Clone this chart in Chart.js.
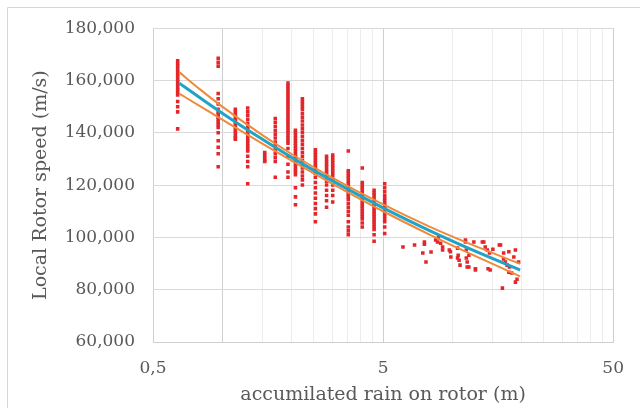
<!DOCTYPE html>
<html>
<head>
<meta charset="utf-8">
<script src="https://cdn.jsdelivr.net/npm/chart.js@4/dist/chart.umd.min.js"></script>
<style>
html,body{margin:0;padding:0;background:#fff;}
#wrap{width:640px;height:408px;position:relative;}
</style>
</head>
<body>
<div id="wrap"><canvas id="c" width="640" height="408"></canvas></div>
<script>
// ---- Axis ticks ----
const xTickValues = [0.5, 5, 50];
const xTickLabels = ['0,5', '5', '50'];
const xMinorGrid = [1, 1.5, 2, 2.5, 3, 3.5, 4, 4.5, 10, 15, 20, 25, 30, 35, 40, 45];
const yTickValues = [60000, 80000, 100000, 120000, 140000, 160000, 180000];

// ---- Measured points: vertical columns (rain in m, speed in m/s) ----
const columnRain = [0.64, 0.96, 1.14, 1.29, 1.53, 1.70, 1.93, 2.08, 2.23, 2.54, 2.84, 3.02, 3.53, 4.06, 4.57, 5.08];
const columnSpeeds = [
  [167500,166500,165500,164500,163500,162500,161500,160500,159500,158500,157500,156500,155500,154500,152000,150000,148000,141500],
  [168500,167000,165500,155000,153000,151000,149000,148000,147000,146000,145000,144000,143000,142000,140000,137000,134500,132000,127000],
  [149000,148000,147000,146000,145000,144000,143000,142000,141000,140000,139000,138000,137500],
  [149500,148000,146500,145000,143500,142000,141000,140000,139000,138000,137000,136000,135000,134000,133000,131000,129000,127000,120500],
  [132500,131500,130500,129500,129000],
  [145500,144000,142500,141000,139500,138000,136500,135000,133500,132000,130500,129000,123000],
  [159000,158000,157000,156000,155000,154000,153000,152000,151000,150000,149000,148000,147000,146000,145000,144000,143000,142000,141000,140000,139000,138000,137000,136000,134000,131000,128000,125000,123000],
  [141000,140000,139000,138000,137000,136000,135000,134000,133000,132000,131000,130000,129000,128000,127000,126000,125000,124000,119000,115500,112500],
  [153000,152000,151000,150000,149000,147500,146000,144500,143000,141500,140000,138500,137000,135500,134000,132500,131000,129500,128000,126500,125000,123500,122000,120000],
  [133500,132500,131500,130500,129500,128500,127500,126500,125500,124500,123000,121000,119000,117000,115000,113000,111000,109000,106000],
  [131000,130000,129000,128000,127000,126000,125000,124000,123000,121500,120000,118000,116000,114000,111500],
  [131500,130500,129500,128500,127500,126500,125500,124500,123500,122000,120000,118000,116000,113500],
  [133000,125500,124500,123500,122500,121500,120500,119500,118500,117500,116500,115500,114500,113000,111500,110000,108500,106000,104000,102500,101000],
  [126500,121000,120000,119000,118000,117000,116000,115000,114000,113000,112000,111000,110000,109000,108000,107000,105500,104000],
  [118000,117000,116000,115000,114000,113000,112000,111000,110000,109000,108000,107000,106000,105000,104000,103000,101000,98500],
  [120500,119000,117500,116000,115000,114000,113000,112000,111000,110000,109000,108000,107000,106000,104000,101500]
];

// ---- Measured points: scattered beyond 5 m ----
const scatterRain  = [6.1, 6.85, 7.56, 7.56, 7.44, 7.68, 8.08, 8.46, 8.62, 8.89, 8.7, 9.07, 9.07, 9.7, 9.85, 9.8, 10.53, 10.6, 10.7, 10.8, 10.53, 11.4, 11.4, 11.5, 11.5, 11.6, 11.6, 11.8, 11.8, 12.4, 12.6, 12.6, 13.5, 13.7, 13.9, 14.2, 14.5, 15.0, 14.6, 14.3, 16.0, 16.2, 16.7, 16.7, 17.0, 17.3, 17.7, 16.5, 17.6, 17.6, 18.1, 18.8, 18.8, 18.5, 19.4, 19.1];
const scatterSpeed = [96300, 97100, 98200, 97400, 94000, 90600, 94400, 99000, 98200, 97800, 100000, 95200, 96300, 95200, 92500, 94500, 95900, 93200, 91300, 89400, 92100, 98200, 99000, 95200, 92100, 90600, 88700, 93200, 88700, 98200, 87500, 88000, 98200, 98200, 96300, 95200, 94000, 95500, 87500, 88000, 97100, 97100, 94000, 91700, 90600, 89400, 88700, 80600, 86700, 94500, 86400, 95200, 82900, 92500, 90600, 84000];

// ---- Trend line and its bands ----
const trendRain  = [0.65, 0.8, 1, 1.5, 2, 3, 5, 8, 12, 19.7];
const trendSpeed = [159000,153400,147500,137400,130600,121700,111300,102500,95500,87500];
const upperSpeed = [163200,156600,150000,139000,131900,122900,112600,104000,97400,89900];
const lowerSpeed = [155000,150200,145000,135800,129400,120600,110000,101000,93700,85100];

// ---- Build datasets ----
const points = [];
columnRain.forEach((x, i) => columnSpeeds[i].forEach(y => points.push({x: x, y: y})));
scatterRain.forEach((x, i) => points.push({x: x, y: scatterSpeed[i]}));
const toXY = (xs, ys) => xs.map((x, i) => ({x: x, y: ys[i]}));

const textColor = '#595959';
const fontFam = "'DejaVu Serif', 'Liberation Serif', serif";

const framePlugin = {
  id: 'frame',
  beforeDraw(chart) {
    const c = chart.ctx;
    c.save();
    c.fillStyle = '#ffffff';
    c.fillRect(0, 0, chart.width, chart.height);
    c.strokeStyle = '#d6d6d6';
    c.lineWidth = 1;
    c.beginPath();
    c.moveTo(7.5, chart.height);
    c.lineTo(7.5, 7.5);
    c.lineTo(chart.width, 7.5);
    c.stroke();
    c.restore();
  }
};

new Chart(document.getElementById('c'), {
  type: 'scatter',
  data: {
    datasets: [
      { label: 'trend', data: toXY(trendRain, trendSpeed), showLine: true, borderColor: '#22a3c6', borderWidth: 3, pointRadius: 0, cubicInterpolationMode: 'monotone', order: 0 },
      { label: 'upper', data: toXY(trendRain, upperSpeed), showLine: true, borderColor: '#ef8a3a', borderWidth: 2, pointRadius: 0, cubicInterpolationMode: 'monotone', order: 1 },
      { label: 'lower', data: toXY(trendRain, lowerSpeed), showLine: true, borderColor: '#ef8a3a', borderWidth: 2, pointRadius: 0, cubicInterpolationMode: 'monotone', order: 2 },
      { label: 'measured', data: points, pointStyle: 'rect', pointRadius: 2.5, borderWidth: 0, backgroundColor: '#e3262b', order: 3 }
    ]
  },
  options: {
    responsive: false,
    animation: false,
    devicePixelRatio: 1,
    layout: { padding: { left: 8, right: 23, top: 28, bottom: 0 } },
    plugins: { legend: { display: false }, tooltip: { enabled: false } },
    scales: {
      x: {
        type: 'logarithmic',
        min: 0.5, max: 50,
        afterBuildTicks: s => { s.ticks = xTickValues.concat(xMinorGrid).sort((a, b) => a - b).map(v => ({value: v})); },
        afterFit: s => { s.height = 66; },
        ticks: {
          autoSkip: false, maxRotation: 0, minRotation: 0, padding: 16,
          color: textColor, font: { family: fontFam, size: 17 },
          callback: v => { const i = xTickValues.indexOf(v); return i >= 0 ? xTickLabels[i] : ''; }
        },
        grid: {
          drawTicks: false, lineWidth: 1,
          color: c => { const v = c.tick ? c.tick.value : 0; return (xTickValues.includes(v) || v === 1) ? '#cfcfcf' : '#ececec'; }
        },
        border: { display: true, color: '#d0d0d0' },
        title: { display: true, text: 'accumilated rain on rotor (m)', color: textColor, font: { family: fontFam, size: 19 }, padding: { top: 2, bottom: 2 } }
      },
      y: {
        min: 60000, max: 180000,
        afterBuildTicks: s => { s.ticks = yTickValues.map(v => ({value: v})); },
        afterFit: s => { s.width = 145; },
        ticks: {
          padding: 18, color: textColor, font: { family: fontFam, size: 17 },
          callback: v => v.toLocaleString('en-US')
        },
        grid: { drawTicks: false, color: '#d9d9d9', lineWidth: 1 },
        border: { display: false },
        title: { display: true, text: 'Local Rotor speed (m/s)', color: textColor, font: { family: fontFam, size: 19 }, padding: { top: 22, bottom: 0 } }
      }
    }
  },
  plugins: [framePlugin]
});
</script>
</body>
</html>
